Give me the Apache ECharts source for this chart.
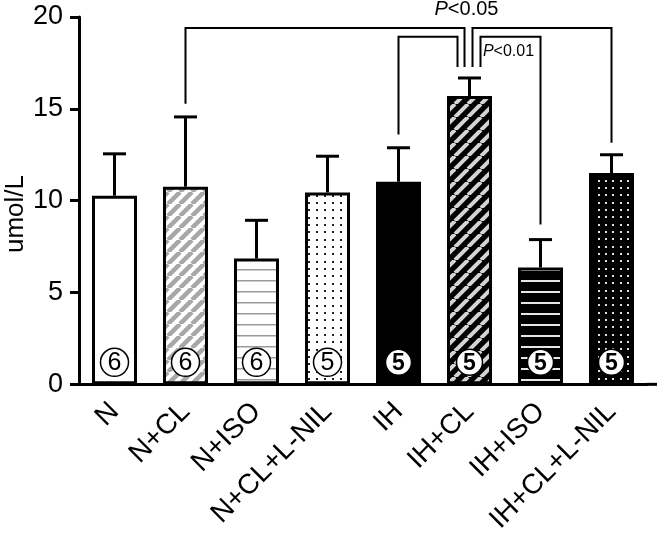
<!DOCTYPE html>
<html>
<head>
<meta charset="utf-8">
<script src="https://cdn.jsdelivr.net/npm/echarts@6/dist/echarts.min.js"></script>
<style>
html,body{margin:0;padding:0;background:#fff;}
#chart{width:657px;height:536px;}
</style>
</head>
<body>
<div id="chart"></div>
<script>
// ---- data ----
const categories = ['N', 'N+CL', 'N+ISO', 'N+CL+L-NIL', 'IH', 'IH+CL', 'IH+ISO', 'IH+CL+L-NIL'];
const means = [10.27, 10.76, 6.85, 10.45, 11.03, 15.7, 6.36, 11.5];
const errors = [2.28, 3.8, 2.08, 1.97, 1.85, 0.98, 1.52, 1.0];
const sampleSizes = [6, 6, 6, 5, 5, 5, 5, 5];
const yMin = 0, yMax = 20, yStep = 5;
// significance brackets: from category, to category, top value, leg end values
const bracketFrom = [1, 5, 4, 5];
const bracketTo = [5, 7, 5, 6];
const bracketTop = [19.4, 19.4, 18.93, 18.93];
const bracketFromEnd = [15.27, 17.28, 13.6, 17.28];
const bracketToEnd = [17.28, 13.15, 17.28, 8.7];
const sigTexts = ['0.05', '0.01'];

// ---- patterns ----
function makeCanvas(w, h, draw) {
  const c = document.createElement('canvas');
  c.width = w; c.height = h;
  const g = c.getContext('2d');
  draw(g, w, h);
  return c;
}
function diag(bg, fg, s, lw) {
  return makeCanvas(s, s, (g) => {
    g.fillStyle = bg; g.fillRect(0, 0, s, s);
    g.strokeStyle = fg; g.lineWidth = lw;
    g.beginPath();
    for (const k of [-s, 0, s]) { g.moveTo(k, s); g.lineTo(k + s, 0); }
    g.stroke();
  });
}
function hlines(bg, fg, s, lw) {
  return makeCanvas(4, s, (g) => {
    g.fillStyle = bg; g.fillRect(0, 0, 4, s);
    g.fillStyle = fg; g.fillRect(0, Math.floor(s / 2), 4, lw);
  });
}
function dots(bg, fg, w, h, n, d) {
  return makeCanvas(Math.round(w * n), Math.round(h * n), (g) => {
    g.fillStyle = bg; g.fillRect(0, 0, w * n, h * n);
    g.fillStyle = fg;
    for (let i = 0; i < n; i++) for (let j = 0; j < n; j++) {
      g.fillRect(Math.round(i * w + w / 2), Math.round(j * h + h / 2), d, d);
    }
  });
}
const pat = (c) => ({ image: c, repeat: 'repeat' });
const fills = [
  '#ffffff',
  pat(diag('#ffffff', '#a8a8a8', 12, 4.5)),
  pat(hlines('#ffffff', '#9a9a9a', 11, 1.5)),
  pat(dots('#ffffff', '#222222', 8, 7.4, 3, 2)),
  '#000000',
  pat(diag('#000000', '#d4d4d4', 13, 4)),
  pat(hlines('#000000', '#e6e6e6', 11, 2)),
  pat(dots('#000000', '#e0e0e0', 7.33, 7.33, 3, 2))
];
const darkBars = [false, false, false, false, true, true, true, true];

const FONT = '"Liberation Sans", Arial, sans-serif';
const chart = echarts.init(document.getElementById('chart'), null, { renderer: 'canvas' });

// annotation layout (pixels) kept here, apart from the data
const legOffsetFrom = [0, 3, 0, 11];
const legOffsetTo = [-5, 0, -12, 0];
const circleValue = 1.2;

const option = {
  animation: false,
  backgroundColor: '#ffffff',
  grid: { left: 79, right: 10, top: 17, bottom: 151, containLabel: false },
  xAxis: {
    type: 'category',
    data: categories,
    axisLine: { lineStyle: { color: '#000', width: 3 } },
    axisTick: { alignWithLabel: true, length: 9, lineStyle: { color: '#000', width: 3 } },
    axisLabel: { rotate: 45, interval: 0, margin: 23, color: '#000', fontSize: 28, fontFamily: FONT }
  },
  yAxis: {
    type: 'value',
    min: yMin, max: yMax, interval: yStep,
    splitLine: { show: false },
    axisLine: { show: true, lineStyle: { color: '#000', width: 3 } },
    axisTick: { show: true, length: 9, lineStyle: { color: '#000', width: 3 } },
    axisLabel: { margin: 16, color: '#000', fontSize: 27, fontFamily: FONT }
  },
  graphic: [{
    type: 'text', x: 16, y: 214, rotation: Math.PI / 2,
    style: { text: 'umol/L', font: '26px ' + FONT, fill: '#000', textAlign: 'center', textVerticalAlign: 'middle' }
  }],
  series: [
    {
      type: 'bar',
      barWidth: 45,
      data: means.map((v, i) => ({ value: v, itemStyle: { color: fills[i] } })),
      itemStyle: { borderColor: '#000', borderWidth: 3 },
      z: 2
    },
    {
      type: 'custom',
      name: 'errors',
      data: means.map((v, i) => [i, v, errors[i]]),
      encode: { x: 0, y: 1 },
      z: 3,
      renderItem: (params, api) => {
        const i = api.value(0), m = api.value(1), e = api.value(2);
        const p0 = api.coord([i, m]);
        const p1 = api.coord([i, m + e]);
        const style = { stroke: '#000', lineWidth: 3, fill: null };
        return {
          type: 'group',
          children: [
            { type: 'line', shape: { x1: p0[0], y1: p0[1], x2: p1[0], y2: p1[1] }, style },
            { type: 'line', shape: { x1: p1[0] - 11.5, y1: p1[1], x2: p1[0] + 11.5, y2: p1[1] }, style }
          ]
        };
      }
    },
    {
      type: 'custom',
      name: 'n',
      data: sampleSizes.map((n, i) => [i, circleValue, n]),
      encode: { x: 0, y: 1 },
      z: 4,
      renderItem: (params, api) => {
        const i = api.value(0);
        const p = api.coord([i, api.value(1)]);
        const dark = darkBars[i];
        return {
          type: 'group',
          children: [
            { type: 'circle', shape: { cx: p[0], cy: p[1], r: dark ? 13 : 14 }, style: { fill: '#fff', stroke: '#000', lineWidth: 1.5 } },
            { type: 'text', x: p[0], y: p[1] + 1, style: { text: String(api.value(2)), font: (dark ? 'bold 23px ' : '25px ') + FONT, fill: '#000', textAlign: 'center', textVerticalAlign: 'middle' } }
          ]
        };
      }
    },
    {
      type: 'custom',
      name: 'brackets',
      data: bracketFrom.map((f, k) => [f, bracketTop[k], bracketTo[k], bracketFromEnd[k], bracketToEnd[k], k]),
      encode: { x: 0, y: 1 },
      z: 5,
      renderItem: (params, api) => {
        const k = api.value(5);
        const a = api.coord([api.value(0), api.value(3)]);
        const t = api.coord([api.value(0), api.value(1)]);
        const b = api.coord([api.value(2), api.value(4)]);
        const tb = api.coord([api.value(2), api.value(1)]);
        const x1 = a[0] + legOffsetFrom[k], x2 = b[0] + legOffsetTo[k];
        return {
          type: 'polyline',
          shape: { points: [[x1, a[1]], [x1, t[1]], [x2, tb[1]], [x2, b[1]]] },
          style: { stroke: '#000', lineWidth: 2, fill: null }
        };
      }
    },
    {
      type: 'custom',
      name: 'sig',
      data: [[5, 20.42, 0], [5, 18.1, 1]],
      encode: { x: 0, y: 1 },
      z: 5,
      renderItem: (params, api) => {
        const k = api.value(2);
        const p = api.coord([api.value(0), api.value(1)]);
        const big = k === 0;
        const dx = big ? -3 : 39;
        return {
          type: 'text',
          x: p[0] + dx, y: p[1],
          style: {
            text: '{i|P}{n|<' + sigTexts[k] + '}',
            textAlign: 'center', textVerticalAlign: 'middle',
            rich: {
              i: { fontStyle: 'italic', fontSize: big ? 20 : 16, fontFamily: FONT, fill: '#000' },
              n: { fontSize: big ? 20 : 16, fontFamily: FONT, fill: '#000' }
            }
          }
        };
      }
    }
  ]
};
chart.setOption(option);

// extend the baseline to the right edge as in the reference
const y0 = chart.convertToPixel({ yAxisIndex: 0 }, 0);
const xEnd = chart.convertToPixel({ xAxisIndex: 0 }, categories.length - 1) + 35;
chart.setOption({
  graphic: [
    option.graphic[0],
    { type: 'line', shape: { x1: xEnd, y1: y0, x2: 657, y2: y0 }, style: { stroke: '#000', lineWidth: 3 } }
  ]
});
</script>
</body>
</html>
